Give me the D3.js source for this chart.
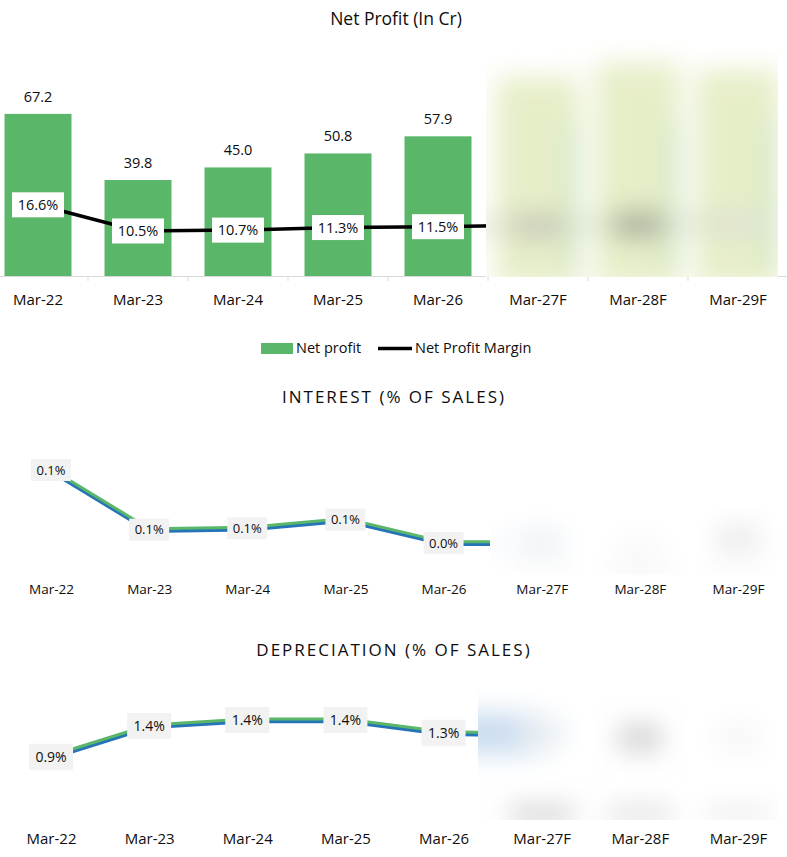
<!DOCTYPE html>
<html>
<head>
<meta charset="utf-8">
<script src="https://cdn.jsdelivr.net/npm/d3@7"></script>
<style>
  body { margin: 0; background: #fff; }
  svg { display: block; font-family: "Open Sans", sans-serif; }
</style>
</head>
<body>
<div id="chart"></div>
<script>
// Data
const years = ["Mar-22", "Mar-23", "Mar-24", "Mar-25", "Mar-26", "Mar-27F", "Mar-28F", "Mar-29F"];
const actualYears = ["Mar-22", "Mar-23", "Mar-24", "Mar-25", "Mar-26"];
const forecastYears = ["Mar-27F", "Mar-28F", "Mar-29F"];
const netProfit = [67.2, 39.8, 45.0, 50.8, 57.9];
const netProfitMargin = [16.6, 10.5, 10.7, 11.3, 11.5];
const interestPct = [0.14, 0.058, 0.06, 0.072, 0.04];
const depreciationPct = [0.95, 1.36, 1.44, 1.44, 1.27];
// forecast values are hidden under the blur in the picture: rough guesses only
const netProfitF = [74, 80, 77];
const netProfitMarginF = [11.9, 12.2, 12.4];
const interestPctF = [0.04, 0.035, 0.045];
const depreciationPctF = [1.25, 1.2, 1.2];

const width = 787;
const height = 857;
const green = "#5ab76a";
const blue = "#2674b8";
const ink = "#0d0d0d";

const svg = d3.select("#chart").append("svg")
  .attr("width", width)
  .attr("height", height)
  .attr("viewBox", `0 0 ${width} ${height}`);

svg.append("rect").attr("width", width).attr("height", height).attr("fill", "#fff");

const defs = svg.append("defs");
defs.append("filter").attr("id", "smear")
  .attr("x", "-30%").attr("y", "-30%").attr("width", "160%").attr("height", "160%")
  .append("feGaussianBlur").attr("stdDeviation", 13);

function blurPatch(id, x0, y0, x1, y1) {
  defs.append("clipPath").attr("id", id)
    .append("rect").attr("x", x0).attr("y", y0).attr("width", x1 - x0).attr("height", y1 - y0);
  const g = svg.append("g").attr("clip-path", `url(#${id})`);
  g.append("rect").attr("x", x0).attr("y", y0).attr("width", x1 - x0).attr("height", y1 - y0)
    .attr("fill", "#fff");
  return g.append("g").attr("filter", "url(#smear)");
}

const rows = (cats, vals) => cats.map((c, i) => ({ year: c, v: vals[i] }));

// =====================
// NET PROFIT
// =====================
const x = d3.scaleBand().domain(years).range([-12, 788]).paddingInner(0.33).paddingOuter(0.165);
const y = d3.scaleLinear().domain([0, 80]).range([276, 83]);
const y2 = d3.scaleLinear().domain([0, 45]).range([276, 83]);
const cx = d => x(d) + x.bandwidth() / 2;

svg.append("text")
  .attr("x", 396).attr("y", 25)
  .attr("text-anchor", "middle")
  .style("font-size", "17.5px")
  .attr("fill", ink)
  .text("Net Profit (In Cr)");

const profitRows = rows(actualYears, netProfit);
const marginRows = rows(years, netProfitMargin.concat(netProfitMarginF));

svg.selectAll(".bar")
  .data(profitRows)
  .enter().append("rect")
  .attr("class", "bar")
  .attr("x", d => x(d.year))
  .attr("y", d => y(d.v))
  .attr("width", x.bandwidth())
  .attr("height", d => y(0) - y(d.v))
  .attr("fill", green);

svg.selectAll(".bar-label")
  .data(profitRows)
  .enter().append("text")
  .attr("x", d => cx(d.year))
  .attr("y", d => y(d.v) - 12)
  .attr("text-anchor", "middle")
  .style("font-size", "14.5px")
  .attr("fill", ink)
  .text(d => d.v.toFixed(1));

// axis
const xAxis = svg.append("g")
  .attr("transform", `translate(0, ${y(0)})`)
  .call(d3.axisBottom(x).tickSize(0).tickPadding(18));
xAxis.select(".domain").remove();
xAxis.selectAll("text").style("font-size", "15px").attr("fill", ink).attr("font-family", "Open Sans");
svg.append("line")
  .attr("x1", 0).attr("x2", width).attr("y1", y(0) + 0.5).attr("y2", y(0) + 0.5)
  .attr("stroke", "#d9d9d9");
svg.selectAll(".tick-mark")
  .data(years.slice(1))
  .enter().append("line")
  .attr("x1", d => x(d) - x.step() * 0.165).attr("x2", d => x(d) - x.step() * 0.165)
  .attr("y1", y(0)).attr("y2", y(0) + 5)
  .attr("stroke", "#d9d9d9");

const marginLine = d3.line().x(d => cx(d.year)).y(d => y2(d.v));
svg.append("path")
  .datum(marginRows)
  .attr("d", marginLine)
  .attr("fill", "none")
  .attr("stroke", "#000")
  .attr("stroke-width", 3.5);

const mLab = svg.selectAll(".m-label")
  .data(marginRows.slice(0, 5))
  .enter().append("g")
  .attr("transform", d => `translate(${cx(d.year)}, ${y2(d.v)})`);
mLab.append("rect").attr("x", -26).attr("y", -12.5).attr("width", 52).attr("height", 25).attr("fill", "#fff");
mLab.append("text").attr("text-anchor", "middle").attr("dy", "0.36em")
  .style("font-size", "14.5px").attr("fill", ink)
  .text(d => d.v.toFixed(1) + "%");

// blurred forecast part
const topBlur = blurPatch("clipTop", 486, 40, 778, 277);
const fProfit = rows(forecastYears, netProfitF);
topBlur.selectAll("rect.fb")
  .data(fProfit)
  .enter().append("rect")
  .attr("class", "fb")
  .attr("x", d => x(d.year) - 8)
  .attr("y", d => y(d.v) - 20)
  .attr("width", x.bandwidth() + 16)
  .attr("height", d => y(0) - y(d.v) + 30)
  .attr("fill", "#e6eec8");
topBlur.append("path")
  .datum(marginRows.slice(4))
  .attr("d", marginLine)
  .attr("fill", "none").attr("stroke", "#c2c6b4").attr("stroke-width", 6);
topBlur.selectAll("rect.fm")
  .data(marginRows.slice(5))
  .enter().append("rect")
  .attr("class", "fm")
  .attr("x", d => cx(d.year) - 24).attr("y", d => y2(d.v) - 12)
  .attr("width", 48).attr("height", 26)
  .attr("fill", (d, i) => ["#c9cbbb", "#a9ad9d", "#dfe3d2"][i]);
topBlur.selectAll("rect.fg")
  .data(forecastYears)
  .enter().append("rect")
  .attr("class", "fg")
  .attr("x", d => x(d) + x.bandwidth() - 6)
  .attr("y", 120)
  .attr("width", 10)
  .attr("height", 150)
  .attr("fill", "#c9e3c4");

// legend
const legend = svg.append("g").attr("transform", "translate(261, 348)");
legend.append("rect").attr("x", 0).attr("y", -5).attr("width", 32).attr("height", 11).attr("fill", green);
legend.append("text").attr("x", 35).attr("dy", "0.36em").style("font-size", "14.5px").attr("fill", ink).text("Net profit");
legend.append("line").attr("x1", 117).attr("x2", 151).attr("y1", 0.5).attr("y2", 0.5).attr("stroke", "#000").attr("stroke-width", 3.5);
legend.append("text").attr("x", 154).attr("dy", "0.36em").style("font-size", "14.5px").attr("fill", ink).text("Net Profit Margin");

// =====================
// SMALL LINE PANELS
// =====================
const xp = d3.scalePoint().domain(years).range([51, 738]);

function linePanel(opt) {
  const yy = d3.scaleLinear().domain(opt.domain).range(opt.range);
  const all = rows(years, opt.values.concat(opt.forecast));
  const act = all.slice(0, 5);
  const line = d3.line().x(d => xp(d.year)).y(d => yy(d.v));

  svg.append("text")
    .attr("x", 394).attr("y", opt.titleY)
    .attr("text-anchor", "middle")
    .style("font-size", "17px")
    .style("letter-spacing", "2px")
    .attr("fill", ink)
    .text(opt.title);

  const g = svg.append("g");
  g.append("path").datum(all).attr("d", line)
    .attr("transform", "translate(0, 1.5)")
    .attr("fill", "none").attr("stroke", blue).attr("stroke-width", 3.5);
  g.append("path").datum(all).attr("d", line)
    .attr("transform", "translate(0, -1)")
    .attr("fill", "none").attr("stroke", green).attr("stroke-width", 3);

  const lab = g.selectAll(".lab").data(act).enter().append("g")
    .attr("transform", d => `translate(${xp(d.year)}, ${yy(d.v)})`);
  lab.append("rect").attr("x", -opt.boxW / 2).attr("y", -opt.boxH / 2)
    .attr("width", opt.boxW).attr("height", opt.boxH).attr("fill", "#f2f2f2");
  lab.append("text").attr("text-anchor", "middle").attr("dy", "0.36em")
    .style("font-size", opt.labelSize).attr("fill", ink)
    .text(d => d.v.toFixed(1) + "%");

  const ax = svg.append("g")
    .attr("transform", `translate(0, ${opt.axisY})`)
    .call(d3.axisBottom(xp).tickSize(0).tickPadding(0));
  ax.select(".domain").remove();
  ax.selectAll("text").style("font-size", opt.tickSize).attr("fill", ink)
    .attr("font-family", "Open Sans").attr("dy", "0.36em");

  const b = blurPatch(opt.clipId, ...opt.patch);
  b.append("path").datum(all.slice(4, 6)).attr("d", line)
    .attr("fill", "none").attr("stroke", opt.smearLine).attr("stroke-width", opt.smearWidth);
  b.selectAll("rect.sb").data(all.slice(5)).enter().append("rect")
    .attr("class", "sb")
    .attr("x", d => xp(d.year) - 22).attr("y", d => yy(d.v) - 14)
    .attr("width", 44).attr("height", 28).attr("fill", (d, i) => opt.smearBox[i]);
  b.selectAll("rect.st").data(forecastYears).enter().append("rect")
    .attr("class", "st")
    .attr("x", d => xp(d) - 32).attr("y", opt.patch[3] - 14)
    .attr("width", 64).attr("height", 16).attr("fill", (d, i) => opt.smearBottom[i]);
}

linePanel({
  title: "INTEREST (% OF SALES)", titleY: 403,
  values: interestPct, forecast: interestPctF,
  domain: [0, 0.16], range: [572, 455.4],
  axisY: 589, boxW: 40, boxH: 22, labelSize: "13px", tickSize: "13.5px",
  clipId: "clipInt", patch: [490, 490, 780, 575],
  smearLine: "#f3f6fa", smearWidth: 10,
  smearBox: ["#eef2f6", "#fafafa", "#ececec"], smearBottom: ["#fcfcfc", "#f6f6f6", "#fcfcfc"]
});

linePanel({
  title: "DEPRECIATION (% OF SALES)", titleY: 656,
  values: depreciationPct, forecast: depreciationPctF,
  domain: [0, 1.6], range: [828, 708],
  axisY: 839, boxW: 44, boxH: 26, labelSize: "14px", tickSize: "15px",
  clipId: "clipDep", patch: [478, 683, 778, 820],
  smearLine: "#c9dcef", smearWidth: 40,
  smearBox: ["#e8edf2", "#d6d6d6", "#f6f6f6"], smearBottom: ["#cfcfcf", "#dedede", "#ececec"]
});
</script>
</body>
</html>
